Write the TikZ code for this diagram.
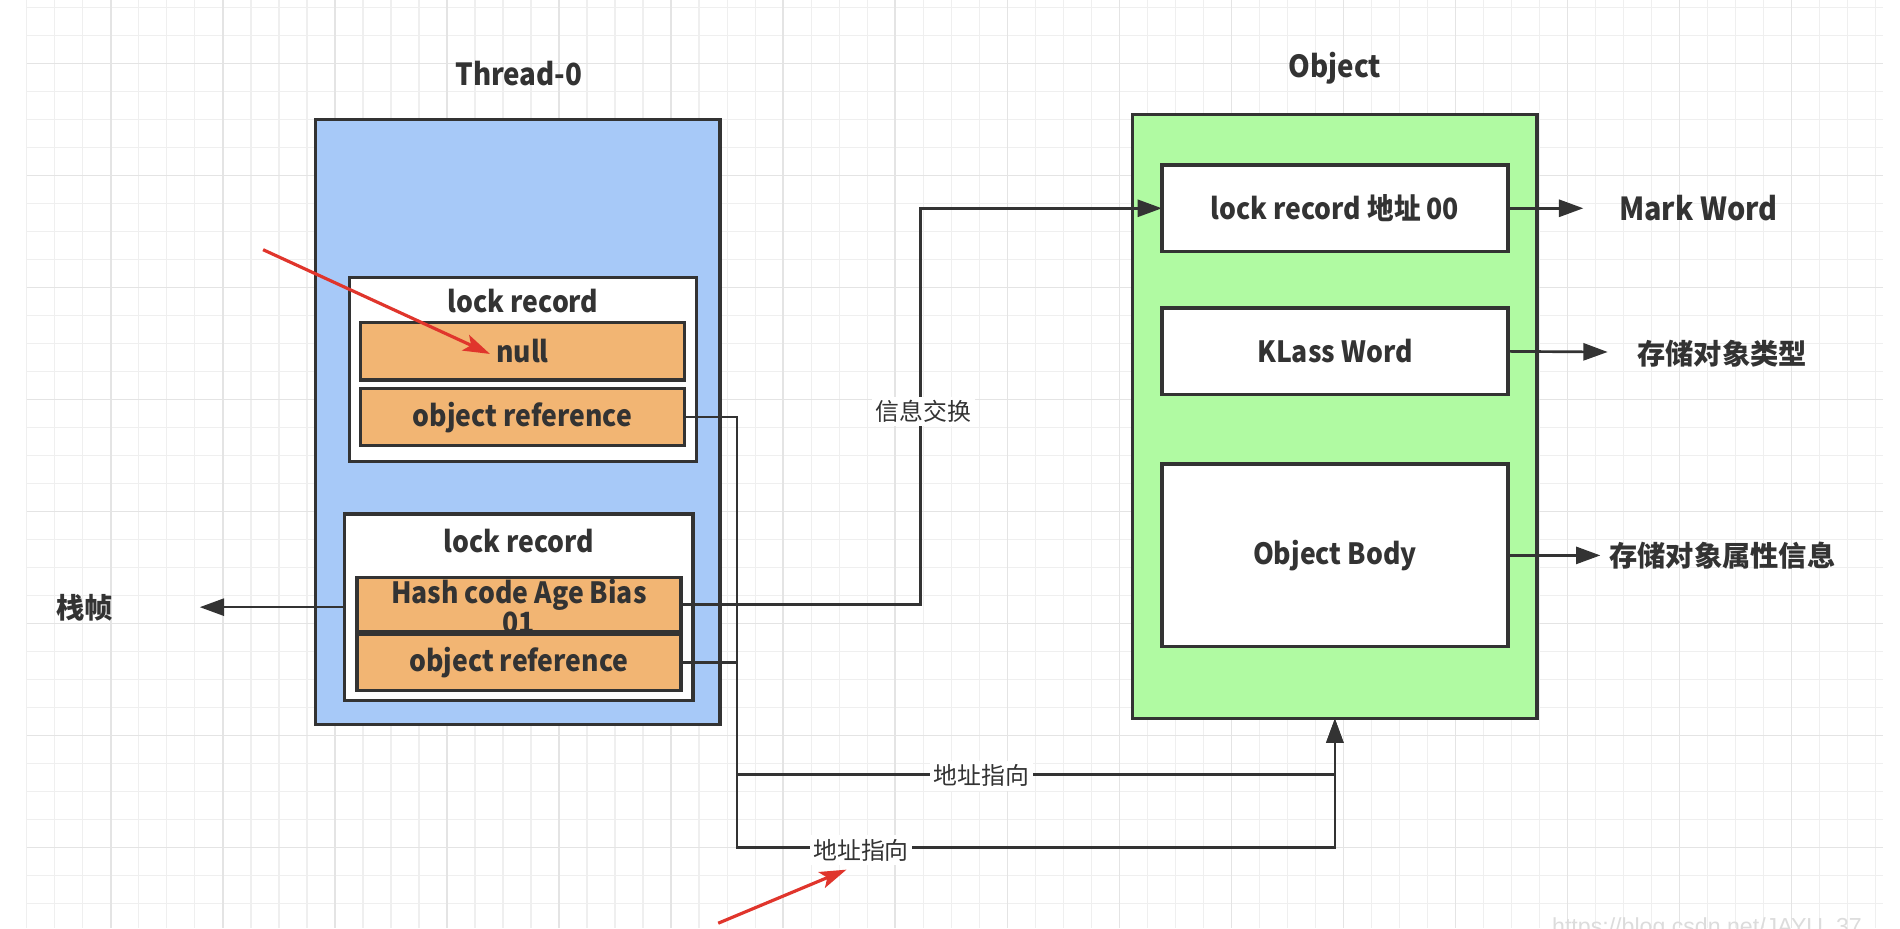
\documentclass[tikz,border=0pt]{standalone}
\usepackage{fontspec}
\setmainfont{Noto Sans CJK SC}
\newfontfamily\narrowfont{Noto Sans CJK SC}[FakeStretch=0.91]
\newfontfamily\wmfont{Liberation Sans}
\usetikzlibrary{arrows.meta}
\definecolor{ink}{HTML}{333333}
\definecolor{threadblue}{HTML}{A7C9F8}
\definecolor{objgreen}{HTML}{B0FAA2}
\definecolor{slotorange}{HTML}{F2B573}
\definecolor{redarrow}{HTML}{E0352C}
\definecolor{gridminor}{HTML}{EFEFEF}
\definecolor{gridmajor}{HTML}{E4E4E4}
\definecolor{wmgray}{HTML}{DCDCDC}
\begin{document}
\begin{tikzpicture}[x=0.5pt,y=-0.5pt,
  box/.style={draw=ink, line width=1.4pt, inner sep=0pt, outer sep=0pt},
  mainlbl/.style={text=ink, font=\narrowfont\bfseries\fontsize{12}{14}\selectfont, inner sep=0pt},
  titlelbl/.style={text=ink, font=\narrowfont\bfseries\fontsize{12.5}{15}\selectfont, inner sep=0pt},
  sidelbl/.style={text=ink, font=\bfseries\fontsize{11.6}{14}\selectfont, inner sep=0pt, anchor=west},
  edgelbl/.style={text=ink, font=\fontsize{9.8}{12}\selectfont, fill=white, inner sep=1.5pt},
  conn/.style={draw=ink, line width=1.1pt},
  arr/.style={conn, -{Triangle[length=10pt,width=7pt]}},
  redarr/.style={draw=redarrow, line width=1.3pt, -{Stealth[length=11pt,width=7pt,inset=2.5pt]}}
]
\useasboundingbox (0,0) rectangle (1560,762);
% background grid
\begin{scope}
  \clip (0,0) rectangle (1560,762);
  \fill[white] (0,0) rectangle (1560,762);
  \foreach \x in {22,45,...,1546} \draw[gridminor, line width=0.5pt] (\x,0) -- (\x,762);
  \foreach \y in {6,29,...,762} \draw[gridminor, line width=0.5pt] (22,\y) -- (1546,\y);
  \foreach \x in {91,183,...,1546} \draw[gridmajor, line width=0.6pt] (\x,0) -- (\x,762);
  \foreach \y in {52,144,...,762} \draw[gridmajor, line width=0.6pt] (22,\y) -- (1546,\y);
  \node[text=wmgray, font=\wmfont\fontsize{9.5}{11}\selectfont, inner sep=0pt, anchor=north west] (wm) at (1274,753) {https://blog.csdn.net/JAYU\_37};
\end{scope}

% Thread-0
\node[titlelbl] (threadlbl) at (426,60) {Thread-0};
\node[box, fill=threadblue, minimum width=166pt, minimum height=248.5pt] (thread) at (425,346.5) {};
\node[box, fill=white, minimum width=142.5pt, minimum height=75.5pt] (lr1) at (429.5,303.5) {};
\node[mainlbl] (lr1lbl) at (429.5,247) {lock record};
\node[box, fill=slotorange, minimum width=133pt, minimum height=23.5pt] (null) at (429,288.5) {};
\node[mainlbl] at (null) {null};
\node[box, fill=slotorange, minimum width=133pt, minimum height=23.5pt] (oref1) at (429,342.5) {};
\node[mainlbl] at (oref1) {object reference};

\node[box, fill=white, minimum width=143pt, minimum height=76.5pt] (lr2) at (426,498.5) {};
\node[mainlbl] (lr2lbl) at (426,444) {lock record};
\node[box, fill=slotorange, minimum width=133pt, minimum height=22.5pt] (hash) at (426,496.5) {};
\node[box, fill=slotorange, minimum width=133pt, minimum height=23pt] (oref2) at (426,544) {};
\node[mainlbl, align=center, font=\narrowfont\bfseries\fontsize{12}{12.5}\selectfont] (hashlbl) at (426,498) {Hash code Age Bias\\01};
\node[mainlbl] at (oref2) {object reference};

% Object
\node[titlelbl] (objlbl) at (1096,56) {Object};
\node[box, fill=objgreen, minimum width=166pt, minimum height=248pt] (obj) at (1096,342) {};
\node[box, fill=white, minimum width=142pt, minimum height=35.5pt] (lra) at (1096,171) {};
\node[mainlbl] at (lra) {lock record 地址 00};
\node[box, fill=white, minimum width=142pt, minimum height=35.5pt] (klass) at (1096,288.5) {};
\node[mainlbl] at (klass) {KLass Word};
\node[box, fill=white, minimum width=142pt, minimum height=75pt] (body) at (1096,456) {};
\node[mainlbl] at (body) {Object Body};

% side labels
\node[sidelbl, font=\narrowfont\bfseries\fontsize{13}{15}\selectfont] (mark) at (1329,171) {Mark Word};
\node[sidelbl] (ktype) at (1344,290) {存储对象类型};
\node[sidelbl] (battr) at (1321,456) {存储对象属性信息};
\node[mainlbl, font=\bfseries\fontsize{11.6}{14}\selectfont] (frame) at (69.5,499) {栈帧};

\coordinate (marktip) at (1300,171);
\coordinate (ktip) at (1320,289);
\coordinate (btip) at (1314,456);
\coordinate (ftip) at (164,498.5);

% connectors
\draw[arr] (lra.east) -- (marktip);
\draw[arr] (klass.east) -- (ktip);
\draw[arr] (body.east) -- (btip);
\draw[arr] (lr2.west) -- (ftip);

\draw[arr] (hash.east) -- (756,496.5) -- (756,171) -- (lra.west);
\node[edgelbl] (xchg) at (758,338) {信息交换};

\draw[arr] (oref1.east) -- (605,342.5) -- (605,696) -- (1096,696) -- (obj.south);
\draw[arr] (oref2.east) -- (605,544) -- (605,636) -- (1096,636) -- (obj.south);
\node[edgelbl] (addr1) at (806,637) {地址指向};
\node[edgelbl] (addr2) at (707,698) {地址指向};

% red annotation arrows
\coordinate (r1s) at (216,205);
\coordinate (r2s) at (589.7,758);
\draw[redarr] (r1s) -- (402.3,290.6);
\draw[redarr] (r2s) -- (695,714);
\end{tikzpicture}
\end{document}
